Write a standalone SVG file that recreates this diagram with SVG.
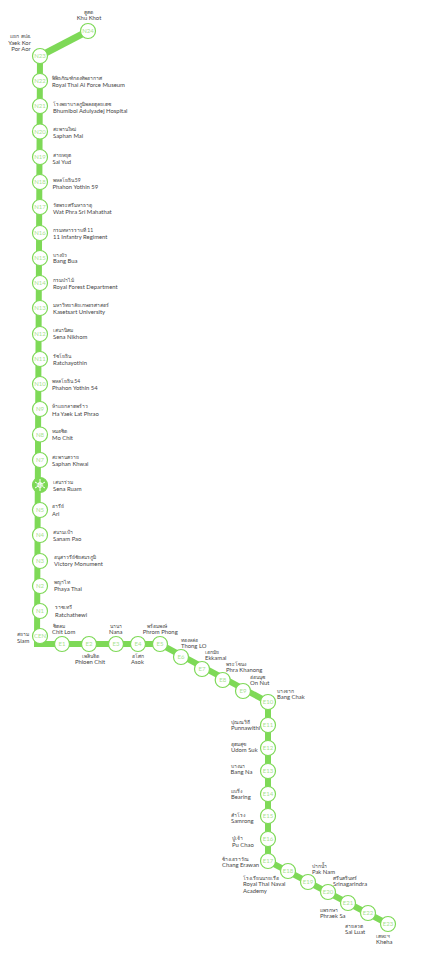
<svg xmlns="http://www.w3.org/2000/svg" width="440" height="956" viewBox="0 0 440 956">
<style>
text{font-family:"Lato","Noto Sans","Liberation Sans",sans-serif;font-size:5.9px;fill:#444}
.t{font-size:5px}
.n{font-size:6px;fill:#a8e390;text-anchor:middle}
circle{fill:#fff;stroke:#7ed957;stroke-width:1.2}
.m{text-anchor:middle}.e{text-anchor:end}
</style>
<rect width="440" height="956" fill="#fff"/>
<g id="connectors" fill="none" stroke="#7ed957" stroke-width="6">
<path d="M88 31L40 56" stroke-width="7"/>
<path d="M40 56L37 644H160L268 702V861L388 924"/>
</g>
<g id="N24"><circle cx="88" cy="31" r="7.500"/><text class="n" x="88" y="33">N24</text><text class="t m" x="88" y="14">คูคต</text><text class="m" x="89" y="19.500">Khu Khot</text></g>
<g id="N23"><circle cx="40" cy="56" r="7.500"/><text class="n" x="40" y="58">N23</text><text class="t m" x="20.500" y="38">แยก คปอ.</text><text class="m" x="19.500" y="45">Yaek Kor</text><text class="m" x="21" y="50.500">Por Aor</text></g>
<g id="N22"><circle cx="40" cy="81" r="7.500"/><text class="n" x="40" y="83">N22</text><text class="t" x="52" y="80">พิพิธภัณฑ์กองทัพอากาศ</text><text x="52" y="87">Royal Thai Ai Force Museum</text></g>
<g id="N21"><circle cx="40" cy="106" r="7.500"/><text class="n" x="40" y="108">N21</text><text class="t" x="53" y="106">โรงพยาบาลภูมิพลอดุลยเดช</text><text x="53" y="113">Bhumibol Adulyadej Hospital</text></g>
<g id="N20"><circle cx="40" cy="131.500" r="7.500"/><text class="n" x="40" y="133.500">N20</text><text class="t" x="53" y="131">สะพานใหม่</text><text x="53" y="138">Saphan Mai</text></g>
<g id="N19"><circle cx="40" cy="157" r="7.500"/><text class="n" x="40" y="159">N19</text><text class="t" x="52.500" y="157">สายหยุด</text><text x="52.500" y="163.500">Sai Yud</text></g>
<g id="N18"><circle cx="40" cy="182" r="7.500"/><text class="n" x="40" y="184">N18</text><text class="t" x="52.500" y="182">พหลโยธิน 59</text><text x="52.500" y="189">Phahon Yothin 59</text></g>
<g id="N17"><circle cx="40" cy="207" r="7.500"/><text class="n" x="40" y="209">N17</text><text class="t" x="53" y="207">วัดพระศรีมหาธาตุ</text><text x="53" y="214">Wat Phra Sri Mahathat</text></g>
<g id="N16"><circle cx="40" cy="233" r="7.500"/><text class="n" x="40" y="235">N16</text><text class="t" x="53" y="232">กรมทหารราบที่ 11</text><text x="53" y="239">11 Infantry Regiment</text></g>
<g id="N15"><circle cx="40" cy="258" r="7.500"/><text class="n" x="40" y="260">N15</text><text class="t" x="53" y="257">บางบัว</text><text x="53" y="263">Bang Bua</text></g>
<g id="N14"><circle cx="40" cy="283" r="7.500"/><text class="n" x="40" y="285">N14</text><text class="t" x="53" y="282">กรมป่าไม้</text><text x="53" y="288.500">Royal Forest Department</text></g>
<g id="N13"><circle cx="40" cy="308" r="7.500"/><text class="n" x="40" y="310">N13</text><text class="t" x="53" y="307">มหาวิทยาลัยเกษตรศาสตร์</text><text x="53" y="314">Kasetsart University</text></g>
<g id="N12"><circle cx="40" cy="334" r="7.500"/><text class="n" x="40" y="336">N12</text><text class="t" x="53" y="332">เสนานิคม</text><text x="53" y="339">Sena Nikhom</text></g>
<g id="N11"><circle cx="40" cy="359" r="7.500"/><text class="n" x="40" y="361">N11</text><text class="t" x="53" y="358">รัชโยธิน</text><text x="53" y="365">Ratchayothin</text></g>
<g id="N10"><circle cx="40" cy="384" r="7.500"/><text class="n" x="40" y="386">N10</text><text class="t" x="52" y="383">พหลโยธิน 54</text><text x="52" y="390">Phahon Yothin 54</text></g>
<g id="N9"><circle cx="40" cy="409" r="7.500"/><text class="n" x="40" y="411">N9</text><text class="t" x="52" y="408">ห้าแยกลาดพร้าว</text><text x="52" y="416">Ha Yaek Lat Phrao</text></g>
<g id="N8"><circle cx="40" cy="434.500" r="7.500"/><text class="n" x="40" y="436.500">N8</text><text class="t" x="52" y="433">หมอชิต</text><text x="52" y="440">Mo Chit</text></g>
<g id="N7"><circle cx="40" cy="460" r="7.500"/><text class="n" x="40" y="462">N7</text><text class="t" x="52" y="459">สะพานควาย</text><text x="52" y="466">Saphan Khwai</text></g>
<g id="N6"><circle cx="40" cy="485" r="7.500" style="fill:#7ed957"/><path d="M40 479V491M35 482L45 488M45 482L35 488" stroke="#fff" stroke-width="1"/><circle cx="40" cy="485" r="2.800" style="fill:#fff;stroke:none"/><text class="n" x="40" y="487">N6</text><text class="t" x="53" y="484">เสนาร่วม</text><text x="53" y="491">Sena Ruam</text></g>
<g id="N5"><circle cx="40" cy="510" r="7.500"/><text class="n" x="40" y="512">N5</text><text class="t" x="52" y="508">อารีย์</text><text x="52" y="516">Ari</text></g>
<g id="N4"><circle cx="40" cy="535" r="7.500"/><text class="n" x="40" y="537">N4</text><text class="t" x="53" y="534">สนามเป้า</text><text x="53" y="541">Sanam Pao</text></g>
<g id="N3"><circle cx="40" cy="561" r="7.500"/><text class="n" x="40" y="563">N3</text><text class="t" x="54" y="559">อนุสาวรีย์ชัยสมรภูมิ</text><text x="54" y="566">Victory Monument</text></g>
<g id="N2"><circle cx="40" cy="586" r="7.500"/><text class="n" x="40" y="588">N2</text><text class="t" x="54" y="584">พญาไท</text><text x="54" y="591">Phaya Thai</text></g>
<g id="N1"><circle cx="40" cy="611" r="7.500"/><text class="n" x="40" y="613">N1</text><text class="t" x="55" y="609">ราชเทวี</text><text x="55" y="617">Ratchathewi</text></g>
<g id="CEN"><circle cx="40" cy="636" r="7.500"/><text class="n" x="40" y="638">CEN</text><text class="t" x="17" y="636">สยาม</text><text x="17" y="643">Siam</text></g>
<g id="E1"><circle cx="62" cy="644" r="7.500"/><text class="n" x="62" y="646">E1</text><text class="t" x="52.500" y="628">ชิดลม</text><text x="52" y="634">Chit Lom</text></g>
<g id="E2"><circle cx="89" cy="644" r="7.500"/><text class="n" x="89" y="646">E2</text><text class="t m" x="90" y="658">เพลินจิต</text><text class="m" x="90" y="664">Phloen Chit</text></g>
<g id="E3"><circle cx="116" cy="644" r="7.500"/><text class="n" x="116" y="646">E3</text><text class="t" x="109.500" y="628">นานา</text><text x="109" y="634">Nana</text></g>
<g id="E4"><circle cx="138" cy="644" r="7.500"/><text class="n" x="138" y="646">E4</text><text class="t" x="132" y="658">อโศก</text><text x="131" y="664">Asok</text></g>
<g id="E5"><circle cx="160" cy="644" r="7.500"/><text class="n" x="160" y="646">E5</text><text class="t" x="147" y="628">พร้อมพงษ์</text><text x="142.700" y="634">Phrom Phong</text></g>
<g id="E6"><circle cx="181" cy="657" r="7.500"/><text class="n" x="181" y="659">E6</text><text class="t" x="181" y="642">ทองหล่อ</text><text x="181" y="648">Thong LO</text></g>
<g id="E7"><circle cx="202" cy="669" r="7.500"/><text class="n" x="202" y="671">E7</text><text class="t" x="205" y="654">เอกมัย</text><text x="205" y="660">Ekkamai</text></g>
<g id="E8"><circle cx="222.700" cy="680" r="7.500"/><text class="n" x="222.700" y="682">E8</text><text class="t" x="226" y="666">พระโขนง</text><text x="226" y="672">Phra Khanong</text></g>
<g id="E9"><circle cx="243" cy="691" r="7.500"/><text class="n" x="243" y="693">E9</text><text class="t" x="250" y="679">อ่อนนุช</text><text x="250" y="685">On Nut</text></g>
<g id="E10"><circle cx="268" cy="702" r="7.500"/><text class="n" x="268" y="704">E10</text><text class="t" x="277" y="693">บางจาก</text><text x="277" y="699">Bang Chak</text></g>
<g id="E11"><circle cx="268" cy="725" r="7.500"/><text class="n" x="268" y="727">E11</text><text class="t" x="231" y="724">ปุณณวิถี</text><text x="231" y="730">Punnawithi</text></g>
<g id="E12"><circle cx="268" cy="748" r="7.500"/><text class="n" x="268" y="750">E12</text><text class="t" x="231" y="746">อุดมสุข</text><text x="231" y="752">Udom Suk</text></g>
<g id="E13"><circle cx="268" cy="771" r="7.500"/><text class="n" x="268" y="773">E13</text><text class="t" x="230.500" y="768">บางนา</text><text x="230.500" y="774">Bang Na</text></g>
<g id="E14"><circle cx="268" cy="794" r="7.500"/><text class="n" x="268" y="796">E14</text><text class="t" x="231" y="793">แบริ่ง</text><text x="231" y="799">Bearing</text></g>
<g id="E15"><circle cx="268" cy="816" r="7.500"/><text class="n" x="268" y="818">E15</text><text class="t" x="231" y="817">สำโรง</text><text x="231" y="823">Samrong</text></g>
<g id="E16"><circle cx="268" cy="839" r="7.500"/><text class="n" x="268" y="841">E16</text><text class="t" x="232" y="840">ปู่เจ้า</text><text x="232" y="847">Pu Chao</text></g>
<g id="E17"><circle cx="268" cy="861" r="7.500"/><text class="n" x="268" y="863">E17</text><text class="t" x="222" y="861">ช้างเอราวัณ</text><text x="222" y="867">Chang Erawan</text></g>
<g id="E18"><circle cx="288" cy="871" r="7.500"/><text class="n" x="288" y="873">E18</text><text class="t" x="243" y="880">โรงเรียนนายเรือ</text><text x="243" y="886">Royal Thai Naval</text><text x="243" y="893">Academy</text></g>
<g id="E19"><circle cx="308" cy="882" r="7.500"/><text class="n" x="308" y="884">E19</text><text class="t" x="312" y="868">ปากน้ำ</text><text x="312" y="874">Pak Nam</text></g>
<g id="E20"><circle cx="328" cy="892" r="7.500"/><text class="n" x="328" y="894">E20</text><text class="t" x="333" y="880">ศรีนครินทร์</text><text x="333" y="886">Srinagarindra</text></g>
<g id="E21"><circle cx="348" cy="903" r="7.500"/><text class="n" x="348" y="905">E21</text><text class="t" x="320" y="912">แพรกษา</text><text x="320" y="918">Phraek Sa</text></g>
<g id="E22"><circle cx="368" cy="913" r="7.500"/><text class="n" x="368" y="915">E22</text><text class="t" x="345" y="928">สายลวด</text><text x="345" y="934">Sai Luat</text></g>
<g id="E23"><circle cx="388" cy="924" r="7.500"/><text class="n" x="388" y="926">E23</text><text class="t" x="376" y="938">เคหะฯ</text><text x="376" y="944">Kheha</text></g>
</svg>
